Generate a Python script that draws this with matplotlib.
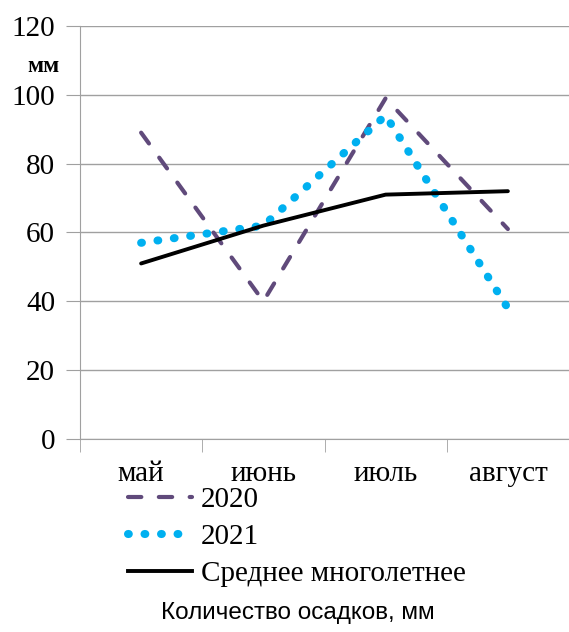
import matplotlib.pyplot as plt
from matplotlib.lines import Line2D

months = ["май", "июнь", "июль", "август"]
y2020 = [89, 40, 99, 61]
y2021 = [57, 62, 94, 38]
avg = [51, 62, 71, 72]

plt.rcParams['font.family'] = ['Liberation Serif', 'DejaVu Serif']

fig = plt.figure(figsize=(5.69, 6.32), dpi=100)
ax = fig.add_axes([0.1406, 0.3054, 0.8594, 0.6535])

purple = '#604A7B'
blue = '#00B0F0'
dash_2020 = (3.2, 4.2)
dots_2021 = (0.1, 1.95)

x = range(len(months))
ax.plot(x, y2020, color=purple, lw=3, dashes=dash_2020, dash_capstyle='round',
        label='2020', zorder=3)
ax.plot(x, y2021, color=blue, lw=5.8, dashes=dots_2021, dash_capstyle='round',
        label='2021', zorder=4)
ax.plot(x, avg, color='black', lw=2.8, solid_capstyle='round',
        label='Среднее многолетнее', zorder=5)

ax.set_xlim(-0.5, 3.5)
ax.set_ylim(0, 120)
ax.set_yticks(range(0, 121, 20))
ax.set_xticks(list(x))
ax.set_xticklabels(months)
ax.yaxis.grid(True, color='#a0a0a0', lw=1)
ax.set_axisbelow(True)
for s in ['top', 'right']:
    ax.spines[s].set_visible(False)
for s in ['left', 'bottom']:
    ax.spines[s].set_color('#a0a0a0')
ax.tick_params(axis='y', length=10, color='#a0a0a0', labelsize=21, pad=8)
ax.tick_params(axis='x', length=0, labelsize=21, pad=16)
# ticks between categories
ax.set_xticks([-0.5, 0.5, 1.5, 2.5, 3.5], minor=True)
ax.tick_params(axis='x', which='minor', length=9, color='#a0a0a0', direction='out')

ax.text(-0.108, 0.903, 'мм', transform=ax.transAxes, fontsize=17,
        fontweight='bold', ha='left', va='center')

handles = [
    Line2D([], [], color=purple, lw=3, dashes=dash_2020, dash_capstyle='round'),
    Line2D([], [], color=blue, lw=5.8, dashes=dots_2021, dash_capstyle='round'),
    Line2D([], [], color='black', lw=2.8),
]
fig.legend(handles, ['2020', '2021', 'Среднее многолетнее'], loc='upper left',
           bbox_to_anchor=(0.199, 0.253), frameon=False, fontsize=21,
           handlelength=2.2, handletextpad=0.3, labelspacing=0.36, borderpad=0)

fig.text(0.524, 0.03, 'Количество осадков, мм', ha='center', va='center',
         fontsize=17.5, family=['Liberation Sans Narrow', 'Liberation Sans', 'DejaVu Sans'])

fig.savefig('out.png', dpi=100)
